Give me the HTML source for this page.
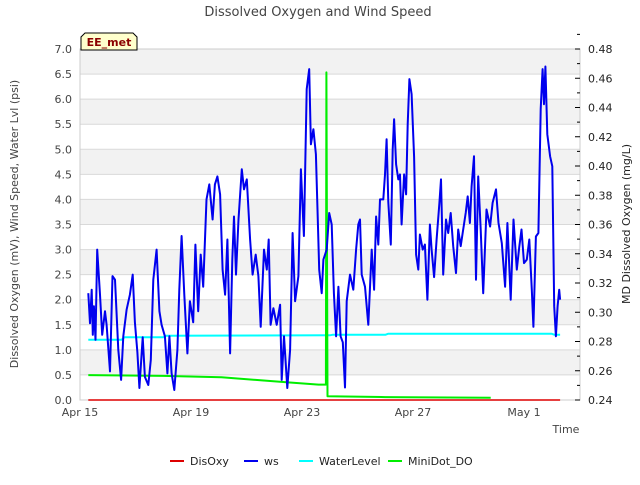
<!DOCTYPE html>
<html><head><meta charset="utf-8"><style>
body{margin:0;background:#fff;font-family:"Liberation Sans","DejaVu Sans",sans-serif}
svg text{font-family:"DejaVu Sans","Liberation Sans",sans-serif}
</style></head><body>
<svg id="chart" width="640" height="480" viewBox="0 0 640 480" xmlns="http://www.w3.org/2000/svg">
<text x="318" y="16" text-anchor="middle" font-size="13" fill="#444">Dissolved Oxygen and Wind Speed</text>
<g id="bands"></g><g id="grid"></g>
<rect x="80" y="49" width="500" height="351" fill="none" stroke="#ccc"/>
<g id="series"></g><g id="axes"></g>
<text transform="translate(18,224) rotate(-90)" text-anchor="middle" font-size="11" fill="#444">Dissolved Oxygen (mV), Wind Speed, Water Lvl (psi)</text>
<text transform="translate(630,224) rotate(-90)" text-anchor="middle" font-size="11" fill="#222">MD Dissolved Oxygen (mg/L)</text>
<text x="566" y="433" text-anchor="middle" font-size="11" fill="#444">Time</text>
<g><path d="M81,50 L81,37 L85,33 L133,33 L137,37 L137,50 Z" fill="#ffffcc" stroke="#000"/><text x="109" y="46" text-anchor="middle" font-size="11" font-weight="bold" fill="#8b0000">EE_met</text></g>
<g id="legend"></g>
</svg>
<script>
const leftTicks=[0,0.5,1,1.5,2,2.5,3,3.5,4,4.5,5,5.5,6,6.5,7];
const rightTicks=[0.24,0.26,0.28,0.30,0.32,0.34,0.36,0.38,0.40,0.42,0.44,0.46,0.48];
const xTickDays=[0,4,8,12,16];
const xTickLabels=["Apr 15","Apr 19","Apr 23","Apr 27","May 1"];
const wsDays=[.30,.36,.42,.46,.50,.56,.62,.72,.80,.90,.96,1.08,1.17,1.26,1.38,1.48,1.56,1.68,1.80,1.90,1.98,2.07,2.14,2.26,2.34,2.46,2.55,2.64,2.76,2.86,2.94,3.06,3.15,3.22,3.30,3.40,3.51,3.58,3.66,3.76,3.87,3.96,4.08,4.16,4.26,4.35,4.44,4.56,4.66,4.78,4.86,4.95,5.05,5.14,5.23,5.31,5.41,5.49,5.55,5.62,5.71,5.83,5.91,6.01,6.13,6.22,6.33,6.43,6.51,6.63,6.73,6.80,6.87,6.97,7.09,7.21,7.27,7.35,7.47,7.57,7.66,7.75,7.87,7.96,8.07,8.17,8.26,8.32,8.41,8.50,8.56,8.62,8.71,8.77,8.89,8.98,9.07,9.15,9.23,9.31,9.39,9.47,9.55,9.61,9.73,9.85,9.95,10.03,10.09,10.15,10.27,10.39,10.51,10.60,10.67,10.75,10.81,10.93,10.99,11.05,11.11,11.20,11.27,11.32,11.39,11.47,11.53,11.59,11.68,11.75,11.81,11.87,11.95,12.04,12.11,12.19,12.25,12.35,12.43,12.52,12.61,12.67,12.76,12.85,12.95,13.01,13.09,13.19,13.27,13.36,13.45,13.55,13.63,13.72,13.81,13.90,13.97,14.05,14.11,14.20,14.27,14.35,14.44,14.53,14.65,14.78,14.87,14.99,15.08,15.20,15.32,15.40,15.52,15.62,15.74,15.83,15.91,16.00,16.10,16.19,16.28,16.34,16.43,16.52,16.60,16.67,16.72,16.77,16.84,16.94,17.02,17.09,17.15,17.21,17.27,17.30];
const wsVals=[2.13,1.53,2.2,1.3,1.87,1.2,3.0,2.1,1.3,1.77,1.5,0.57,2.47,2.4,1.0,0.4,1.27,1.8,2.1,2.5,1.55,0.95,0.24,1.25,0.46,0.3,0.8,2.4,3.0,1.77,1.5,1.27,0.53,1.27,0.53,0.2,1.0,2.2,3.27,2.1,0.93,1.97,1.55,3.1,1.77,2.9,2.26,4.0,4.3,3.6,4.3,4.46,4.1,2.6,2.1,3.2,0.93,2.8,3.66,2.5,3.6,4.6,4.2,4.4,3.2,2.5,2.9,2.47,1.46,3.0,2.6,3.2,1.5,1.83,1.5,1.9,0.4,1.27,0.24,1.0,3.33,1.97,2.47,4.6,3.27,6.2,6.6,5.1,5.4,4.9,3.8,2.6,2.13,2.8,3.0,3.73,3.5,2.13,1.27,2.26,1.27,1.15,0.25,1.97,2.5,2.2,3.0,3.5,3.6,2.5,2.26,1.5,3.0,2.2,3.66,3.1,4.0,4.0,4.5,5.2,3.95,3.1,5.0,5.6,4.7,4.4,4.5,3.5,4.5,4.1,5.5,6.4,6.1,4.85,2.9,2.6,3.3,3.0,3.1,2.0,3.5,3.0,2.45,3.2,3.93,4.4,2.5,3.6,3.33,3.73,3.07,2.53,3.4,3.07,3.4,3.73,4.06,3.53,4.26,4.86,2.4,4.46,3.4,2.13,3.8,3.46,3.93,4.2,3.53,3.13,2.26,3.53,2.0,3.6,2.6,3.06,3.4,2.73,2.8,3.2,2.2,1.46,3.26,3.33,5.8,6.6,5.9,6.65,5.3,4.86,4.66,1.87,1.27,1.87,2.2,2.0];
const wlDays=[0.3,1.5,1.6,3.0,3.1,9.0,9.1,11.0,11.1,17.0,17.1,17.3];
const wlVals=[1.2,1.2,1.25,1.25,1.28,1.29,1.3,1.3,1.32,1.32,1.3,1.3];
const doDays=[0.3,3.0,5.1,6.5,7.5,8.6,8.86,8.88,8.92,11.0,14.8];
const doVals=[0.257,0.2565,0.2555,0.2535,0.252,0.2505,0.2505,0.464,0.2425,0.242,0.2415];
const disDays=[0.3,17.3];
const disVals=[0,0];

const NS="http://www.w3.org/2000/svg";
const X0=80,X1=580,Y0=400,Y1=49;
const xs=d=>X0+d*27.75;
const yl=v=>Y0-(v/7)*(Y0-Y1);
const yr=v=>Y0-((v-0.24)/0.24)*(Y0-Y1);
function mk(tag,attrs,parent){const e=document.createElementNS(NS,tag);for(const k in attrs)e.setAttribute(k,attrs[k]);document.getElementById(parent).appendChild(e);return e;}
for(let i=0;i<leftTicks.length-1;i++){
 if(i%2===1){const r=mk('rect',{x:X0,y:yl(leftTicks[i+1]),width:X1-X0,height:yl(leftTicks[i])-yl(leftTicks[i+1]),fill:'#f2f2f2'},'bands');
 
 }
}
leftTicks.forEach(v=>{
 const l=mk('line',{x1:X0,x2:X1,y1:yl(v),y2:yl(v),stroke:'#d9d9d9'},'grid');
 
 
 const t=mk('text',{x:72,y:yl(v)+4,'text-anchor':'end','font-size':11,fill:'#444'},'axes');t.textContent=v.toFixed(1);
 
 
});
rightTicks.forEach(v=>{
 const l=mk('line',{x1:X1-5,x2:X1,y1:yr(v),y2:yr(v),stroke:'#000'},'axes');
 
 
 const m=mk('line',{x1:X1-3,x2:X1,y1:yr(v+0.01),y2:yr(v+0.01),stroke:'#000'},'axes');
 
 
 const t=mk('text',{x:588,y:yr(v)+4,'font-size':11,fill:'#222'},'axes');t.textContent=v.toFixed(2);
 
 
});
xTickDays.forEach((d,i)=>{
 const t=mk('text',{x:xs(d),y:416,'text-anchor':'middle','font-size':11,fill:'#444'},'axes');t.textContent=xTickLabels[i];
 
 
});
function line(days,vals,yf,color,w,name,step){
 let p='';days.forEach((d,i)=>{p+=(i?'L':'M')+xs(d).toFixed(1)+','+yf(vals[i]).toFixed(1);});
 const e=mk('path',{d:p,fill:'none',stroke:color,'stroke-width':w,'stroke-linejoin':'round'},'series');
 
 
}
line(disDays,disVals,yl,'#dd0000',1.5,'disoxy-line');
line(wlDays,wlVals,yl,'#00ffff',2,'waterlevel-line');
line(doDays,doVals,yr,'#00ee00',2,'minidot-do-line');
line(wsDays,wsVals,yl,'#0000ee',2,'ws-line');
const legNames=["DisOxy","ws","WaterLevel","MiniDot_DO"];
const legColors=["#dd0000","#0000ee","#00ffff","#00ee00"];
const legX=[170,244,299,388];
legNames.forEach((n,i)=>{
 const l=mk('line',{x1:legX[i],x2:legX[i]+14,y1:461,y2:461,stroke:legColors[i],'stroke-width':2},'legend');
 
 
 const t=mk('text',{x:legX[i]+20,y:465,'font-size':11,fill:'#222'},'legend');t.textContent=n;
 
 
});
</script>
</body></html>
